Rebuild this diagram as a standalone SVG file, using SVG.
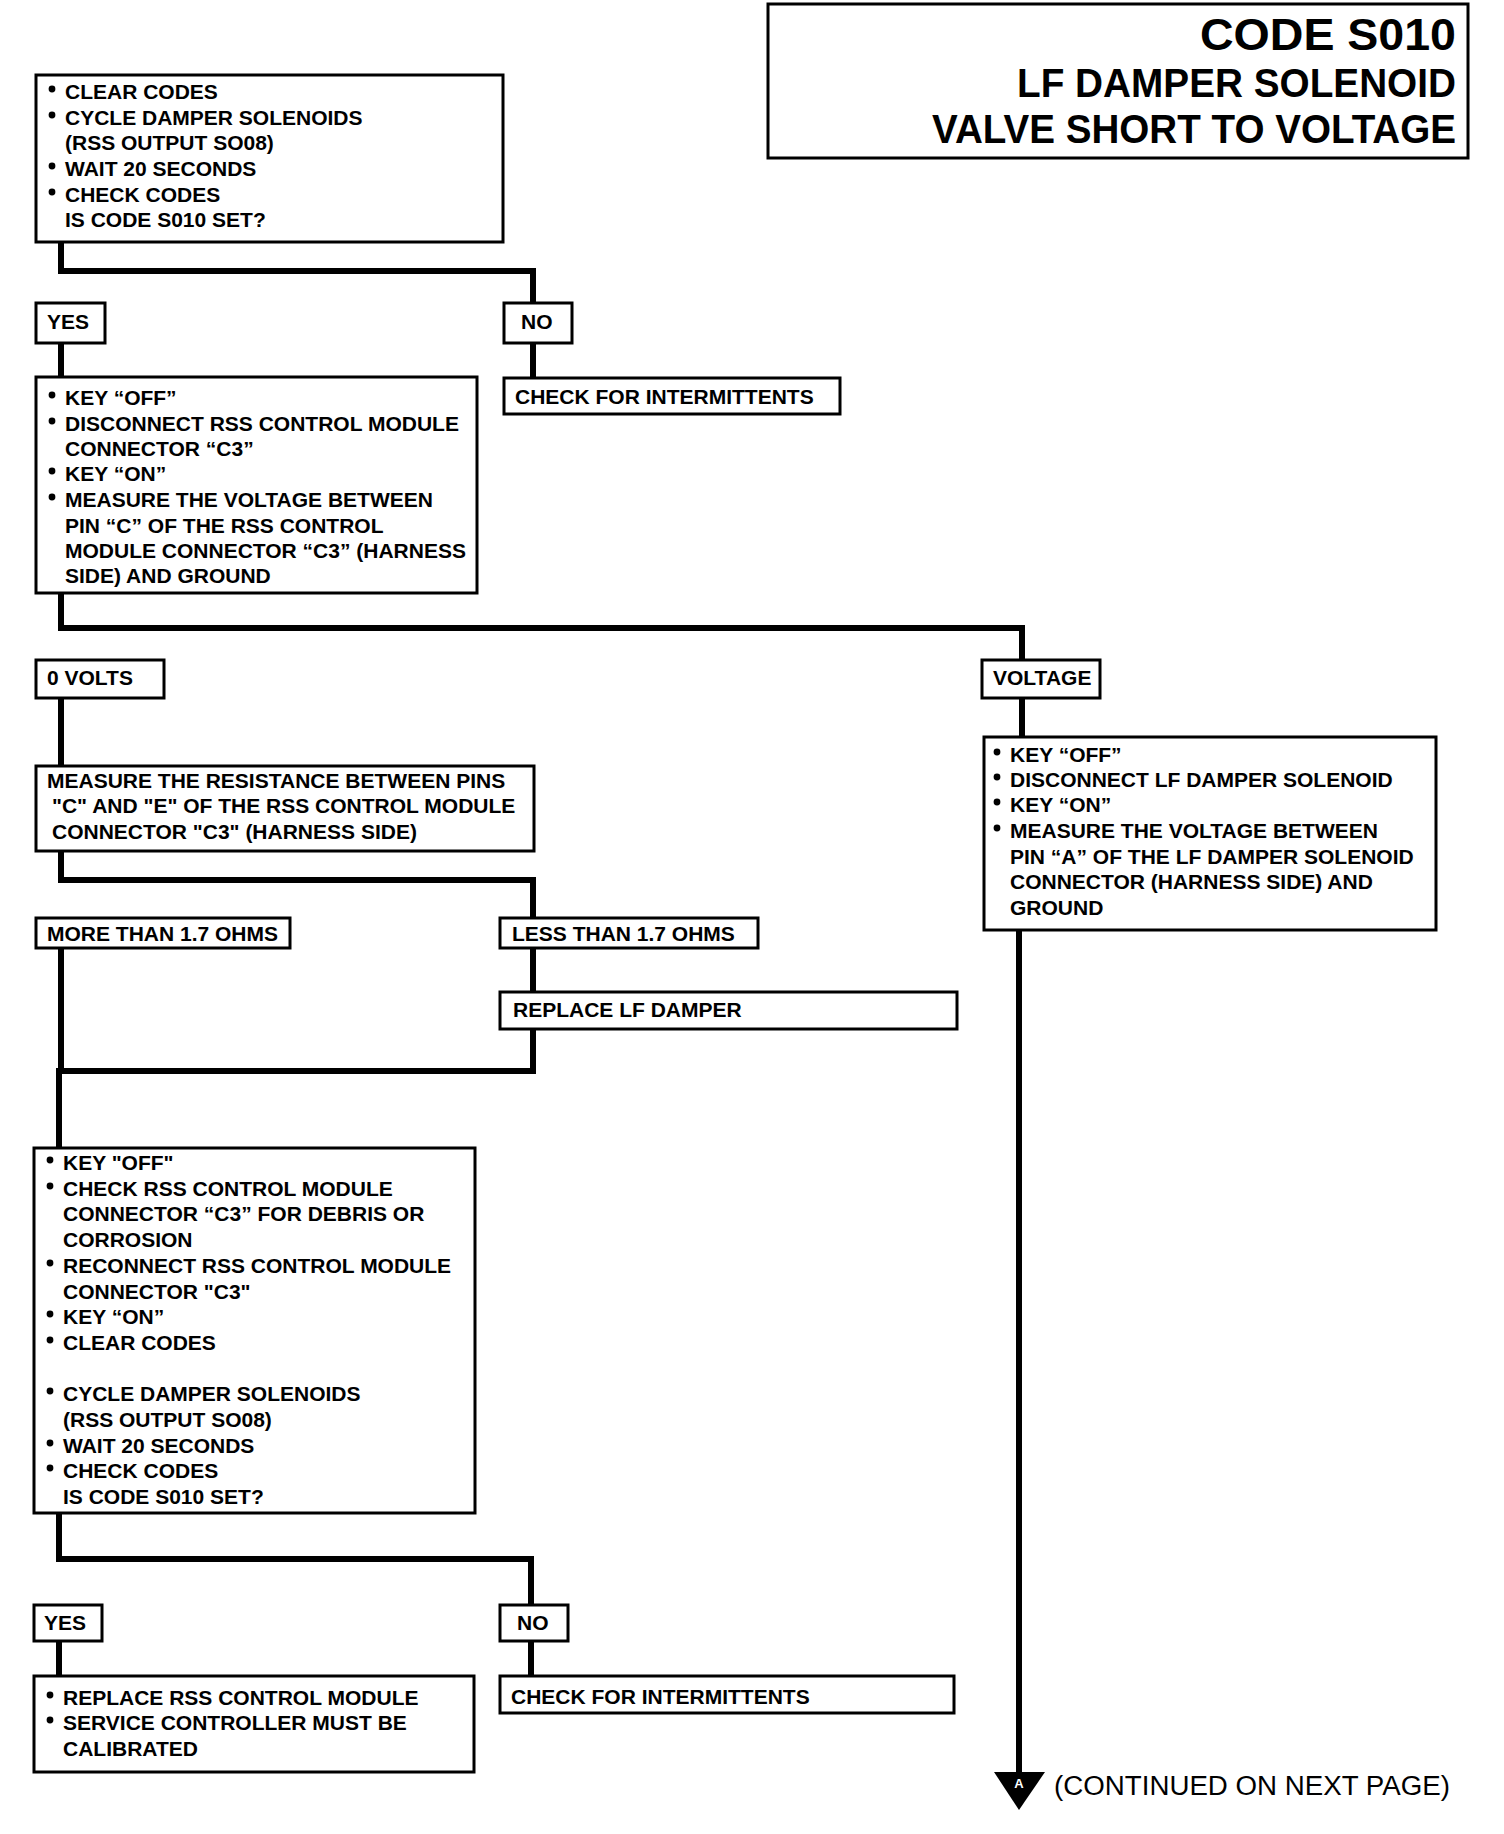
<svg xmlns="http://www.w3.org/2000/svg" width="1504" height="1834" viewBox="0 0 1504 1834">
<style>
.box{fill:#fff;stroke:#000;stroke-width:3}
.t{font-family:"Liberation Sans",Arial,sans-serif;font-weight:bold;font-size:21px;fill:#000}
.title{font-family:"Liberation Sans",Arial,sans-serif;font-weight:bold;font-size:41px;fill:#000;text-anchor:end}
.ln{fill:none;stroke:#000;stroke-width:6;stroke-linejoin:miter;stroke-linecap:square}
.b{fill:#000}
</style>
<defs>
<circle id="dot" r="3.4" class="b"/>
</defs>
<rect width="1504" height="1834" fill="#fff"/>

<g id="connectors">
<path class="ln" d="M61 242 V271 H533 V303"/>
<path class="ln" d="M61 343 V377"/>
<path class="ln" d="M533 343 V378"/>
<path class="ln" d="M61 593 V628 H1022 V660"/>
<path class="ln" d="M61 698 V766"/>
<path class="ln" d="M1022 698 V737"/>
<path class="ln" d="M61 851 V880 H533 V918"/>
<path class="ln" d="M533 948 V992"/>
<path class="ln" d="M533 1029 V1071 H61"/>
<path class="ln" d="M61 948 V1071 M59 1071 V1148"/>
<path class="ln" d="M59 1513 V1559 H531 V1605"/>
<path class="ln" d="M59 1641 V1676"/>
<path class="ln" d="M531 1641 V1676"/>
<path class="ln" d="M1019 930 V1775"/>
</g>

<g id="title">
<rect x="768" y="4" width="700" height="154" class="box"/>
<text class="title" x="1456" y="50" style="font-size:45px" textLength="256" lengthAdjust="spacingAndGlyphs">CODE S010</text>
<text class="title" x="1456" y="97" textLength="439" lengthAdjust="spacingAndGlyphs">LF DAMPER SOLENOID</text>
<text class="title" x="1456" y="143" textLength="524" lengthAdjust="spacingAndGlyphs">VALVE SHORT TO VOLTAGE</text>
</g>

<g id="n1">
<rect x="36" y="75" width="467" height="167" class="box"/>
<use href="#dot" x="52" y="89"/><use href="#dot" x="52" y="115"/><use href="#dot" x="52" y="166"/><use href="#dot" x="52" y="192"/>
<text class="t" x="65" y="99">CLEAR CODES</text>
<text class="t" x="65" y="125">CYCLE DAMPER SOLENOIDS</text>
<text class="t" x="65" y="150">(RSS OUTPUT SO08)</text>
<text class="t" x="65" y="176">WAIT 20 SECONDS</text>
<text class="t" x="65" y="202">CHECK CODES</text>
<text class="t" x="65" y="227">IS CODE S010 SET?</text>
</g>

<g id="yes1">
<rect x="36" y="303" width="69" height="40" class="box"/>
<text class="t" x="47" y="329">YES</text>
</g>
<g id="no1">
<rect x="504" y="303" width="68" height="40" class="box"/>
<text class="t" x="521" y="329">NO</text>
</g>

<g id="n2">
<rect x="36" y="377" width="441" height="216" class="box"/>
<use href="#dot" x="52" y="395"/><use href="#dot" x="52" y="421"/><use href="#dot" x="52" y="471"/><use href="#dot" x="52" y="497"/>
<text class="t" x="65" y="405">KEY “OFF”</text>
<text class="t" x="65" y="431">DISCONNECT RSS CONTROL MODULE</text>
<text class="t" x="65" y="456">CONNECTOR “C3”</text>
<text class="t" x="65" y="481">KEY “ON”</text>
<text class="t" x="65" y="507">MEASURE THE VOLTAGE BETWEEN</text>
<text class="t" x="65" y="533">PIN “C” OF THE RSS CONTROL</text>
<text class="t" x="65" y="558">MODULE CONNECTOR “C3” (HARNESS</text>
<text class="t" x="65" y="583">SIDE) AND GROUND</text>
</g>

<g id="n_int1">
<rect x="504" y="378" width="336" height="36" class="box"/>
<text class="t" x="515" y="404">CHECK FOR INTERMITTENTS</text>
</g>

<g id="zero">
<rect x="36" y="660" width="128" height="38" class="box"/>
<text class="t" x="47" y="685">0 VOLTS</text>
</g>
<g id="voltage">
<rect x="982" y="660" width="118" height="38" class="box"/>
<text class="t" x="993" y="685">VOLTAGE</text>
</g>

<g id="n3">
<rect x="36" y="766" width="498" height="85" class="box"/>
<text class="t" x="47" y="788">MEASURE THE RESISTANCE BETWEEN PINS</text>
<text class="t" x="52" y="813">"C" AND "E" OF THE RSS CONTROL MODULE</text>
<text class="t" x="52" y="839">CONNECTOR "C3" (HARNESS SIDE)</text>
</g>

<g id="n7">
<rect x="984" y="737" width="452" height="193" class="box"/>
<use href="#dot" x="997" y="752"/><use href="#dot" x="997" y="777"/><use href="#dot" x="997" y="802"/><use href="#dot" x="997" y="828"/>
<text class="t" x="1010" y="762">KEY “OFF”</text>
<text class="t" x="1010" y="787">DISCONNECT LF DAMPER SOLENOID</text>
<text class="t" x="1010" y="812">KEY “ON”</text>
<text class="t" x="1010" y="838">MEASURE THE VOLTAGE BETWEEN</text>
<text class="t" x="1010" y="864">PIN “A” OF THE LF DAMPER SOLENOID</text>
<text class="t" x="1010" y="889">CONNECTOR (HARNESS SIDE) AND</text>
<text class="t" x="1010" y="915">GROUND</text>
</g>

<g id="more">
<rect x="36" y="918" width="254" height="30" class="box"/>
<text class="t" x="47" y="941">MORE THAN 1.7 OHMS</text>
</g>
<g id="less">
<rect x="500" y="918" width="258" height="30" class="box"/>
<text class="t" x="512" y="941">LESS THAN 1.7 OHMS</text>
</g>

<g id="replace_lf">
<rect x="500" y="992" width="457" height="37" class="box"/>
<text class="t" x="513" y="1017">REPLACE LF DAMPER</text>
</g>

<g id="n4">
<rect x="34" y="1148" width="441" height="365" class="box"/>
<use href="#dot" x="50" y="1160"/><use href="#dot" x="50" y="1186"/><use href="#dot" x="50" y="1263"/><use href="#dot" x="50" y="1314"/><use href="#dot" x="50" y="1340"/><use href="#dot" x="50" y="1391"/><use href="#dot" x="50" y="1443"/><use href="#dot" x="50" y="1468"/>
<text class="t" x="63" y="1170">KEY "OFF"</text>
<text class="t" x="63" y="1196">CHECK RSS CONTROL MODULE</text>
<text class="t" x="63" y="1221">CONNECTOR “C3” FOR DEBRIS OR</text>
<text class="t" x="63" y="1247">CORROSION</text>
<text class="t" x="63" y="1273">RECONNECT RSS CONTROL MODULE</text>
<text class="t" x="63" y="1299">CONNECTOR "C3"</text>
<text class="t" x="63" y="1324">KEY “ON”</text>
<text class="t" x="63" y="1350">CLEAR CODES</text>
<text class="t" x="63" y="1401">CYCLE DAMPER SOLENOIDS</text>
<text class="t" x="63" y="1427">(RSS OUTPUT SO08)</text>
<text class="t" x="63" y="1453">WAIT 20 SECONDS</text>
<text class="t" x="63" y="1478">CHECK CODES</text>
<text class="t" x="63" y="1504">IS CODE S010 SET?</text>
</g>

<g id="yes2">
<rect x="34" y="1605" width="68" height="36" class="box"/>
<text class="t" x="44" y="1630">YES</text>
</g>
<g id="no2">
<rect x="500" y="1605" width="68" height="36" class="box"/>
<text class="t" x="517" y="1630">NO</text>
</g>

<g id="n5">
<rect x="34" y="1676" width="440" height="96" class="box"/>
<use href="#dot" x="50" y="1695"/><use href="#dot" x="50" y="1720"/>
<text class="t" x="63" y="1705">REPLACE RSS CONTROL MODULE</text>
<text class="t" x="63" y="1730">SERVICE CONTROLLER MUST BE</text>
<text class="t" x="63" y="1756">CALIBRATED</text>
</g>

<g id="n6">
<rect x="500" y="1676" width="454" height="37" class="box"/>
<text class="t" x="511" y="1704">CHECK FOR INTERMITTENTS</text>
</g>

<g id="continue">
<polygon points="994,1772 1045,1772 1019,1810" fill="#000"/>
<text x="1019" y="1788" font-family="Liberation Sans,Arial,sans-serif" font-weight="bold" font-size="13" fill="#fff" text-anchor="middle">A</text>
<text class="t" x="1054" y="1795" style="font-size:27px;font-weight:normal" textLength="396" lengthAdjust="spacingAndGlyphs">(CONTINUED ON NEXT PAGE)</text>
</g>
</svg>
